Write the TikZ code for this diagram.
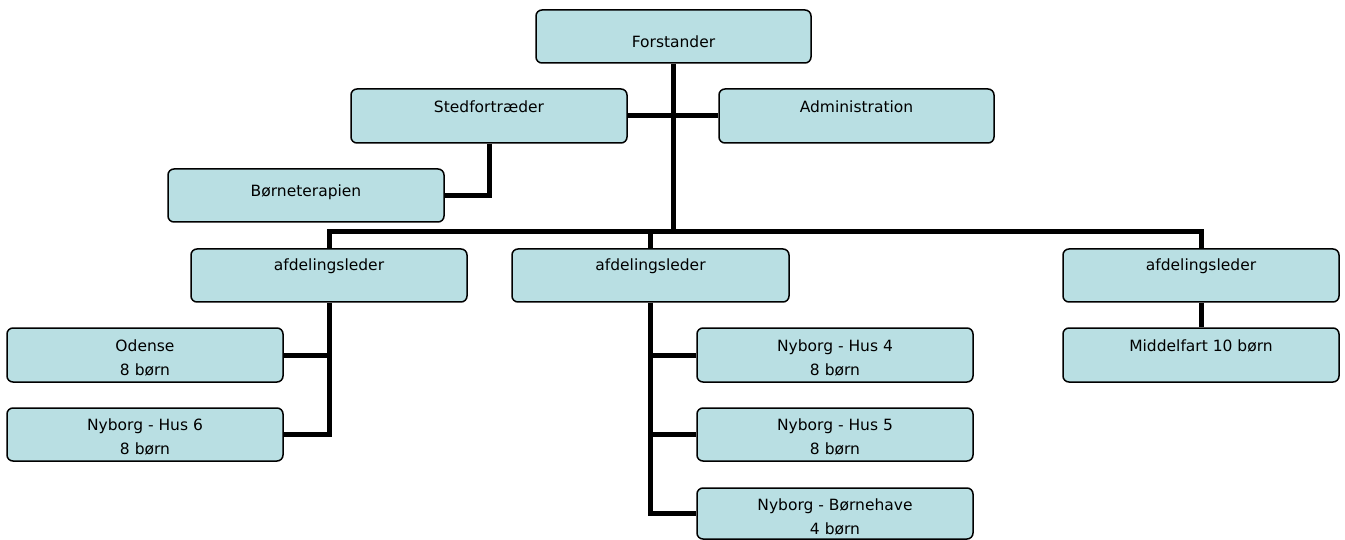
\documentclass[tikz,border=0pt]{standalone}
\usepackage{fontspec}
\setmainfont{DejaVu Sans}
\definecolor{boxfill}{HTML}{B9DFE3}
\tikzset{
  orgbox/.style={draw=black, line width=1.5pt, rounded corners=6pt, fill=boxfill, inner sep=0pt},
  txt/.style={font=\fontsize{15.5}{24}\selectfont, align=center, inner sep=0pt, text=black},
  conn/.style={line width=5pt, draw=black, line join=miter}
}
\begin{document}
\begin{tikzpicture}[x=1pt,y=-1pt]
\useasboundingbox (0,0) rectangle (1345,540);
% boxes
\node[orgbox, minimum width=275pt, minimum height=53pt] (fo) at (673.5,36.5) {};
\node[orgbox, minimum width=276pt, minimum height=54pt] (st) at (489,116) {};
\node[orgbox, minimum width=275pt, minimum height=54pt] (ad) at (856.5,116) {};
\node[orgbox, minimum width=276pt, minimum height=53pt] (bt) at (306,195.5) {};
\node[orgbox, minimum width=276pt, minimum height=53pt] (a1) at (329,275.5) {};
\node[orgbox, minimum width=277pt, minimum height=53pt] (a2) at (650.5,275.5) {};
\node[orgbox, minimum width=276pt, minimum height=53pt] (a3) at (1201,275.5) {};
\node[orgbox, minimum width=276pt, minimum height=54pt] (od) at (145,355) {};
\node[orgbox, minimum width=276pt, minimum height=53pt] (h6) at (145,434.5) {};
\node[orgbox, minimum width=276pt, minimum height=54pt] (h4) at (835,355) {};
\node[orgbox, minimum width=276pt, minimum height=53pt] (h5) at (835,434.5) {};
\node[orgbox, minimum width=276pt, minimum height=51pt] (bh) at (835,513.5) {};
\node[orgbox, minimum width=276pt, minimum height=54pt] (mf) at (1201,355) {};
% connectors
\coordinate (bus) at (673.5,232);
\draw[conn] (fo.south) -- (bus);
\draw[conn] (a1.north) |- (bus);
\draw[conn] (a3.north) |- (bus);
\draw[conn] (a2.north) -- (a2.north |- bus);
\draw[conn] (st.east) -- (ad.west);
\draw[conn] (st.south) |- (bt.east);
\draw[conn] (a1.south) |- (h6.east);
\draw[conn] (od.east) -| (a1.south);
\draw[conn] (a2.south) |- (bh.west);
\draw[conn] (h4.west) -| (a2.south);
\draw[conn] (h5.west) -| (a2.south);
\draw[conn] (a3.south) -- (mf.north);
% texts
\node[txt] (fo-t) at (673.5,42) {Forstander};
\node[txt] (st-t) at (489,107) {Stedfortræder};
\node[txt] (ad-t) at (856.5,107) {Administration};
\node[txt] (bt-t) at (306,192) {Børneterapien};
\node[txt] (a1-t) at (329,266) {afdelingsleder};
\node[txt] (a2-t) at (650.5,266) {afdelingsleder};
\node[txt] (a3-t) at (1201,266) {afdelingsleder};
\node[txt] (od-t) at (145,357.5) {Odense\\8 børn};
\node[txt] (h6-t) at (145,437) {Nyborg - Hus 6\\8 børn};
\node[txt] (h4-t) at (835,357.5) {Nyborg - Hus 4\\8 børn};
\node[txt] (h5-t) at (835,437) {Nyborg - Hus 5\\8 børn};
\node[txt] (bh-t) at (835,517) {Nyborg - Børnehave\\4 børn};
\node[txt] (mf-t) at (1201,346) {Middelfart 10 børn};
\end{tikzpicture}
\end{document}
